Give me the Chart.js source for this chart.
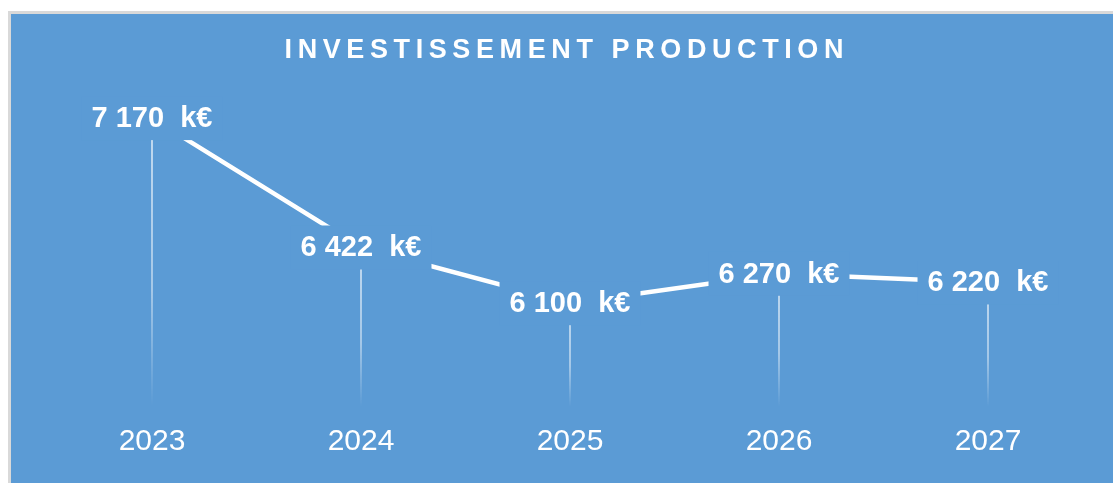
<!DOCTYPE html>
<html>
<head>
<meta charset="utf-8">
<script src="https://cdn.jsdelivr.net/npm/chart.js@4/dist/chart.umd.min.js"></script>
<style>
  html, body { margin: 0; padding: 0; background: #ffffff; overflow: hidden; }
  #box {
    position: absolute; left: 8px; top: 11px;
    width: 1102px; height: 469px;
    border-left: 3px solid #d9d9d9; border-top: 3px solid #d9d9d9;
    background: #5b9bd5;
  }
</style>
</head>
<body>
<div id="box"><canvas id="chart" width="1102" height="469"></canvas></div>
<script>
const titre = "INVESTISSEMENT PRODUCTION";
const annees = ["2023", "2024", "2025", "2026", "2027"];
const investissements = [7170, 6422, 6100, 6270, 6220];
const axeMin = 5500;
const axeMax = 7500;

const fond = "#5b9bd5";
const police = "'Liberation Sans', Arial, sans-serif";

// "7 170  k€"
function formatKEuro(v) {
  return String(v).replace(/\B(?=(\d{3})+(?!\d))/g, " ") + "  k€";
}

const dropLines = {
  id: "dropLines",
  beforeDatasetsDraw(chart) {
    const ctx = chart.ctx;
    const bas = chart.chartArea.bottom;
    chart.getDatasetMeta(0).data.forEach((pt) => {
      const grad = ctx.createLinearGradient(0, pt.y, 0, bas);
      grad.addColorStop(0, "rgba(255,255,255,0.85)");
      grad.addColorStop(0.6, "rgba(255,255,255,0.6)");
      grad.addColorStop(1, "rgba(255,255,255,0)");
      ctx.save();
      ctx.strokeStyle = grad;
      ctx.lineWidth = 1.5;
      ctx.beginPath();
      ctx.moveTo(pt.x, pt.y);
      ctx.lineTo(pt.x, bas);
      ctx.stroke();
      ctx.restore();
    });
  }
};

const etiquettes = {
  id: "etiquettes",
  afterDatasetsDraw(chart) {
    const ctx = chart.ctx;
    const data = chart.data.datasets[0].data;
    ctx.save();
    ctx.font = "bold 29px " + police;
    ctx.textAlign = "center";
    ctx.textBaseline = "middle";
    chart.getDatasetMeta(0).data.forEach((pt, i) => {
      const txt = formatKEuro(data[i]);
      const w = ctx.measureText(txt).width + 20;
      const h = 44;
      ctx.fillStyle = fond;
      ctx.fillRect(pt.x - w / 2, pt.y - h / 2, w, h);
      ctx.fillStyle = "#ffffff";
      ctx.fillText(txt, pt.x, pt.y + 1);
    });
    ctx.restore();
  },
  afterDraw(chart) {
    const ctx = chart.ctx;
    ctx.save();
    ctx.font = "bold 27px " + police;
    ctx.letterSpacing = "5.6px";
    ctx.fillStyle = "#ffffff";
    ctx.textAlign = "center";
    ctx.textBaseline = "middle";
    ctx.fillText(titre, 553 + 2.8, 37);
    ctx.restore();
  }
};

new Chart(document.getElementById("chart"), {
  type: "line",
  data: {
    labels: annees,
    datasets: [{
      data: investissements,
      borderColor: "#ffffff",
      borderWidth: 4.5,
      pointRadius: 0,
      tension: 0,
      fill: false
    }]
  },
  options: {
    responsive: false,
    animation: false,
    layout: { padding: { top: 47, left: 36.5, right: 20.5, bottom: 14 } },
    plugins: {
      legend: { display: false },
      tooltip: { enabled: false },
      title: { display: false }
    },
    scales: {
      x: {
        offset: true,
        grid: { display: false },
        border: { display: false },
        ticks: { color: "#ffffff", padding: 9, font: { family: police, size: 30 } }
      },
      y: { display: false, min: axeMin, max: axeMax }
    }
  },
  plugins: [dropLines, etiquettes]
});
</script>
</body>
</html>
